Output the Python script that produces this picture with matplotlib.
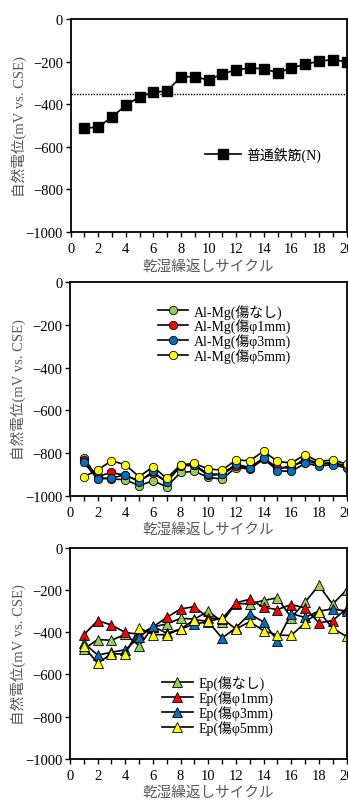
import matplotlib
matplotlib.use("Agg")
import matplotlib.pyplot as plt
from matplotlib.ticker import MultipleLocator

plt.rcParams['font.family'] = ['Liberation Serif', 'Noto Sans CJK JP']

CYCLES = list(range(1, 21))

# panel 1: normal rebar
NORMAL = [-512, -508, -459, -406, -364, -344, -338, -270, -272, -286,
          -258, -238, -231, -233, -253, -230, -213, -198, -191, -200]
THRESHOLD = -350

# panel 2: Al-Mg
ALMG_LABELS = ["Al-Mg(傷なし)", "Al-Mg(傷φ1mm)", "Al-Mg(傷φ3mm)", "Al-Mg(傷φ5mm)"]
ALMG_NONE = [-823, -915, -922, -925, -953, -930, -958, -891, -886, -914,
             -922, -868, -875, -830, -875, -860, -840, -850, -850, -860]
ALMG_1MM = [-835, -910, -891, -905, -930, -895, -935, -860, -858, -905,
            -900, -860, -870, -825, -868, -870, -825, -850, -845, -860]
ALMG_3MM = [-844, -922, -917, -902, -935, -886, -938, -857, -855, -899,
            -899, -852, -868, -824, -883, -886, -849, -860, -855, -870]
ALMG_5MM = [-911, -880, -836, -855, -911, -864, -919, -855, -849, -875,
            -880, -833, -836, -792, -839, -847, -808, -841, -832, -852]

# panel 3: epoxy
EP_LABELS = ["Ep(傷なし)", "Ep(傷φ1mm)", "Ep(傷φ3mm)", "Ep(傷φ5mm)"]
EP_NONE = [-480, -435, -438, -410, -464, -375, -361, -334, -338, -301,
           -350, -265, -265, -250, -237, -331, -258, -178, -268, -199]
EP_1MM = [-412, -345, -366, -401, -410, -375, -330, -290, -279, -332,
          -337, -261, -244, -282, -293, -269, -285, -356, -345, -288]
EP_3MM = [-451, -508, -495, -483, -424, -372, -405, -385, -361, -350,
          -428, -379, -313, -352, -440, -312, -330, -300, -290, -300]
EP_5MM = [-467, -547, -502, -503, -380, -411, -412, -385, -341, -348,
          -334, -385, -350, -393, -414, -415, -356, -302, -381, -420]

COLORS = ["#92D050", "#FF0000", "#0070C0", "#FFFF00"]
LABEL_COLOR = "#595959"

W, H = 348, 803


def make_axes(fig, left, right, top, bottom):
    ax = fig.add_axes([left / W, 1 - bottom / H, (right - left) / W, (bottom - top) / H])
    ax.set_xlim(0, 20)
    ax.set_ylim(-1000, 0)
    ax.xaxis.set_major_locator(MultipleLocator(2))
    ax.xaxis.set_minor_locator(MultipleLocator(1))
    ax.yaxis.set_major_locator(MultipleLocator(200))
    ax.tick_params(axis="both", which="both", direction="out", length=3.5, width=1.0,
                   labelsize=10.5, colors="black")
    ax.tick_params(axis="x", which="both", pad=4)
    ax.tick_params(axis="y", pad=2)
    for sp in ax.spines.values():
        sp.set_linewidth(1.3)
    ax.set_ylabel("自然電位(mV vs. CSE)", fontsize=10.5, color=LABEL_COLOR)
    ax.set_xlabel("乾湿繰返しサイクル", fontsize=10.5, color=LABEL_COLOR)
    ax.yaxis.set_label_coords(-0.16, 0.5)
    ax.xaxis.set_label_coords(0.5, -0.125)
    return ax


def legend(ax, x, y, hlen):
    ax.legend(loc="upper left", bbox_to_anchor=(x, y), frameon=False, fontsize=10,
              borderpad=0, borderaxespad=0, handlelength=hlen, handletextpad=0.4,
              labelspacing=0.0)


fig = plt.figure(figsize=(W / 100, H / 100), dpi=100)

# panel 1
ax1 = make_axes(fig, 70.7, 346.5, 20, 233)
ax1.plot([0, 20], [THRESHOLD, THRESHOLD], color="black", linestyle=(0, (1, 1)), linewidth=1.0)
ax1.plot(CYCLES, NORMAL, color="black", linewidth=1.2, marker="s", markersize=6.5,
         markerfacecolor="black", markeredgecolor="black", label="普通鉄筋(N)")
legend(ax1, 0.487, 0.40, 2.6)

# panel 2
ax2 = make_axes(fig, 70, 346.5, 283.3, 496.7)
for vals, lab, col in zip([ALMG_NONE, ALMG_1MM, ALMG_3MM, ALMG_5MM], ALMG_LABELS, COLORS):
    ax2.plot(CYCLES, vals, color="black", linewidth=1.2, marker="o", markersize=6,
             markerfacecolor=col, markeredgecolor="black", markeredgewidth=0.6, label=lab)
legend(ax2, 0.318, 0.90, 2.2)

# panel 3
ax3 = make_axes(fig, 70, 346.5, 548.7, 760)
for vals, lab, col in zip([EP_NONE, EP_1MM, EP_3MM, EP_5MM], EP_LABELS, COLORS):
    ax3.plot(CYCLES, vals, color="black", linewidth=1.2, marker="^", markersize=6.5,
             markerfacecolor=col, markeredgecolor="black", markeredgewidth=0.6, label=lab)
legend(ax3, 0.333, 0.395, 2.2)

fig.savefig("out.png", dpi=100)
